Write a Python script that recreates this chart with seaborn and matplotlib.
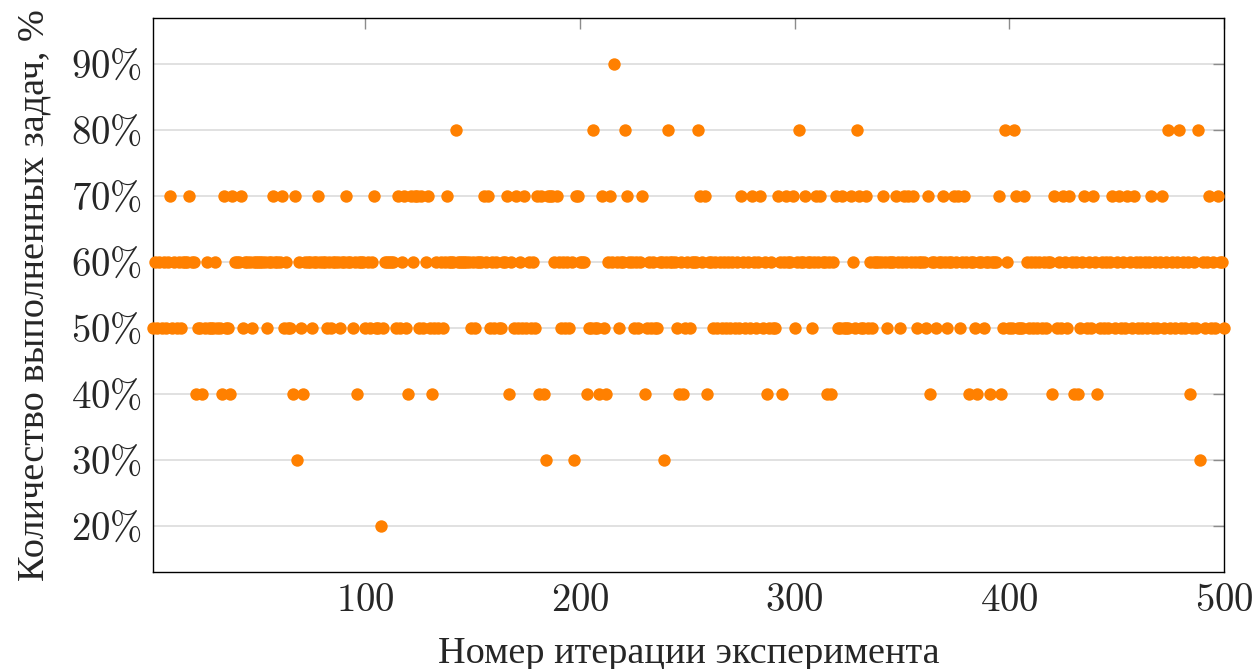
import numpy as np
import pandas as pd
import matplotlib
matplotlib.use("Agg")
import matplotlib.pyplot as plt
import seaborn as sns

levels_001_100 = "5656565675" "6565666766" "4554565556" "5547554766" "6756665666" \
                 "6665667666" "7565547365" "4666566766" "6565666566" "7665646665"
levels_101_200 = "6567552566" "6665756754" "7677575675" "4565656766" "6866666656" \
                 "5666767565" "6556674657" "5657565657" "4743777676" "5656563776"
levels_201_300 = "6645585547" "5467696566" "8766565674" "5656556636" "8666546456" \
                 "5666876746" "6565656565" "6565765657" "6567564565" "5764676675"
levels_301_400 = "6866766567" "6766464675" "5755576587" "5575656666" "7656667656" \
                 "7676765666" "5746656676" "5667675676" "4665466566" "4666745865"
levels_401_500 = "5875557656" "5656565664" "7565765764" "6456756576" "4565656756" \
                 "7565765765" "6565675656" "7568565685" "6564565836" "5675657665"

x_ticks = [100, 200, 300, 400, 500]
y_ticks = [20, 30, 40, 50, 60, 70, 80, 90]
x_label = "Номер итерации эксперимента"
y_label = "Количество выполненных задач, %"

blocks = [levels_001_100, levels_101_200, levels_201_300, levels_301_400, levels_401_500]
percent = [int(c) * 10 for b in blocks for c in b]
iteration = list(range(1, len(percent) + 1))
df = pd.DataFrame({"iteration": iteration, "percent": percent})

sns.set_style("white")
plt.rcParams["mathtext.fontset"] = "cm"
plt.rcParams["font.family"] = ["Liberation Serif", "DejaVu Serif"]

W, H = 1256, 669
fig = plt.figure(figsize=(W / 100, H / 100), dpi=100)
ax = fig.add_axes([153 / W, 1 - 572 / H, (1224 - 153) / W, (572 - 18) / H])

sns.scatterplot(data=df, x="iteration", y="percent", ax=ax, color="#ff8000",
                s=80, linewidth=0, clip_on=False, zorder=3, legend=False)

ax.set_xlim(1, 500)
ax.set_ylim(13, 97)
ax.set_xticks(x_ticks)
ax.set_xticklabels([rf"${v}$" for v in x_ticks])
ax.set_yticks(y_ticks)
ax.set_yticklabels([rf"${v}\%$" for v in y_ticks])
ax.yaxis.grid(True, color="#d9d9d9", linewidth=1.1)
ax.xaxis.grid(False)
ax.set_axisbelow(True)
ax.tick_params(direction="in", length=8, width=1.0, color="#8c8c8c",
               top=True, right=True, labelsize=28, pad=8)
for sp in ax.spines.values():
    sp.set_color("black")
    sp.set_linewidth(1.0)
    sp.set_visible(True)

ax.set_xlabel(x_label, fontsize=27.5, labelpad=12)
ax.set_ylabel(y_label, fontsize=27.5, labelpad=14)

fig.savefig("out.png", dpi=100)
